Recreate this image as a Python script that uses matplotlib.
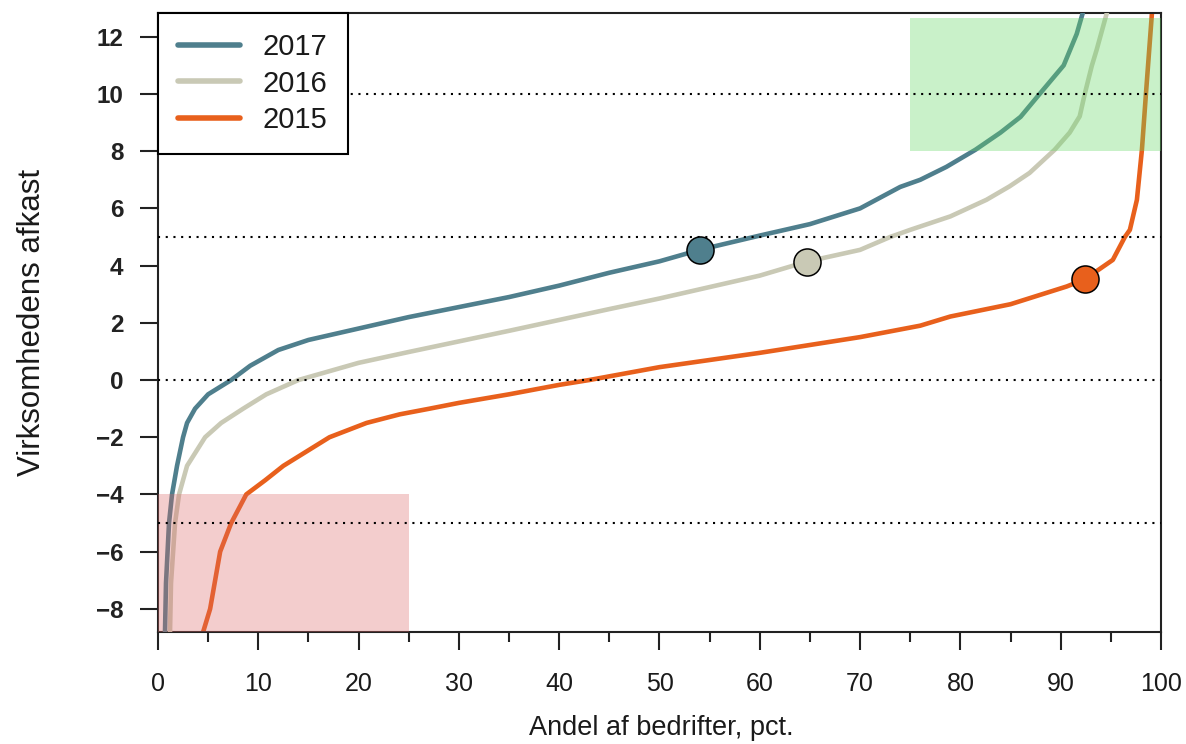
import matplotlib
matplotlib.use("Agg")
import matplotlib.pyplot as plt
from matplotlib.patches import Rectangle
from matplotlib.ticker import MultipleLocator

# Sorted farm returns (percent) against share of farms (percent), one curve per year
share_2017 = [0.7, 0.8, 1.1, 1.4, 1.9, 2.5, 2.9, 3.7, 5.0, 7.3, 9.2, 12.0, 15.0, 20.0, 25.0,
              30.0, 35.0, 40.0, 45.0, 50.0, 54.0, 60.0, 65.0, 70.0, 74.0, 76.0, 78.6,
              81.5, 84.0, 86.0, 87.9, 90.3, 91.6, 92.2]
return_2017 = [-8.81, -7.1, -5.0, -4.0, -3.0, -2.0, -1.5, -1.0, -0.5, 0.0, 0.5, 1.05, 1.4, 1.8,
               2.2, 2.55, 2.9, 3.3, 3.75, 4.15, 4.55, 5.05, 5.45, 6.0, 6.75, 7.0, 7.45,
               8.05, 8.65, 9.2, 10.0, 11.0, 12.1, 12.83]

share_2016 = [1.2, 1.3, 1.7, 2.1, 2.9, 4.7, 6.3, 8.5, 10.8, 14.0, 20.0, 25.0, 30.0, 35.0,
              40.0, 45.0, 50.0, 55.0, 60.0, 64.7, 70.0, 73.0, 75.0, 79.0, 82.6, 84.9,
              86.9, 89.4, 90.9, 91.9, 92.4, 93.1, 93.6, 94.6]
return_2016 = [-8.81, -7.1, -5.0, -4.0, -3.0, -2.0, -1.5, -1.0, -0.5, 0.0, 0.6, 0.98, 1.35,
               1.72, 2.1, 2.48, 2.85, 3.25, 3.65, 4.14, 4.55, 5.0, 5.25, 5.72, 6.3, 6.77,
               7.24, 8.05, 8.65, 9.22, 10.0, 10.98, 11.56, 12.83]

share_2015 = [4.5, 5.2, 6.2, 7.3, 8.8, 10.7, 12.5, 14.8, 17.1, 20.8, 24.1, 27.1, 30.0, 35.0,
              40.0, 43.0, 50.0, 60.0, 70.0, 76.0, 79.0, 85.0, 90.6, 92.4, 95.2, 96.4,
              96.9, 97.6, 98.1, 98.5, 99.1]
return_2015 = [-8.81, -8.0, -6.0, -5.0, -4.0, -3.5, -3.0, -2.5, -2.0, -1.5, -1.2, -1.0, -0.8,
               -0.5, -0.17, 0.0, 0.45, 0.95, 1.5, 1.9, 2.22, 2.65, 3.27, 3.52, 4.2, 5.0,
               5.25, 6.3, 8.05, 10.0, 12.83]

# Highlighted farm (share, return) for each year
marker_share = [54.0, 64.7, 92.4]
marker_return = [4.55, 4.14, 3.52]

years = ["2017", "2016", "2015"]
line_colors = ["#4F7F8D", "#C9C9B5", "#E8601C"]

# Shaded zones: (x0, x1, y0, y1)
top_zone = (75, 100, 8, 12.65)
bottom_zone = (0, 25, -8.81, -4)
zone_colors = [(0.40, 0.85, 0.40, 0.35), (0.86, 0.40, 0.40, 0.32)]

reference_levels = [-5, 0, 5, 10]

x_ticks = list(range(0, 101, 10))
y_ticks = list(range(-8, 13, 2))

plt.rcParams["font.family"] = ["Liberation Sans", "DejaVu Sans"]

fig = plt.figure(figsize=(11.86, 7.44), dpi=100)
ax = fig.add_axes([0.1332, 0.1505, 0.8457, 0.8320])

series = [(share_2017, return_2017), (share_2016, return_2016), (share_2015, return_2015)]
for (xs, ys), year, col, zo in zip(series, years, line_colors, [4, 3, 2]):
    ax.plot(xs, ys, color=col, lw=3.3, label=year, zorder=zo, solid_joinstyle="round")

for zone, zc in zip([top_zone, bottom_zone], zone_colors):
    x0, x1, y0, y1 = zone
    ax.add_patch(Rectangle((x0, y0), x1 - x0, y1 - y0, facecolor=zc,
                           edgecolor="none", zorder=5))

for lvl in reference_levels:
    ax.axhline(lvl, color="black", lw=1.5, linestyle=(0, (1, 2.7)), zorder=6)

for xs, ys, col in zip(marker_share, marker_return, line_colors):
    ax.plot([xs], [ys], "o", ms=19.5, mfc=col, mec="black", mew=1.1, zorder=8)

ax.set_xlim(0, 100)
ax.set_ylim(-8.81, 12.83)

ax.set_xticks(x_ticks)
ax.xaxis.set_minor_locator(MultipleLocator(5))
ax.set_yticks(y_ticks)

for sp in ax.spines.values():
    sp.set_linewidth(1.5)
    sp.set_color("#222222")

ax.tick_params(axis="x", which="major", direction="out", length=13, width=1.5,
               color="#222222", pad=16)
ax.tick_params(axis="x", which="minor", direction="out", length=7, width=1.5,
               color="#222222")
ax.tick_params(axis="y", which="major", direction="out", length=13, width=1.5,
               color="#222222", pad=12)

for lab in ax.get_xticklabels():
    lab.set_fontsize(18)
    lab.set_color("#1a1a1a")
for lab in ax.get_yticklabels():
    lab.set_fontsize(17.5)
    lab.set_fontweight("bold")
    lab.set_color("#222222")

ax.set_xlabel("Andel af bedrifter, pct.", fontsize=19.5, color="#1a1a1a")
ax.xaxis.label.set_va("center")
ax.xaxis.set_label_coords(0.5015, -0.155)

ax.set_ylabel("Virksomhedens afkast", fontsize=22.5, color="#1a1a1a")
ax.yaxis.label.set_va("center")
ax.yaxis.set_label_coords(-0.1256, 0.5)

leg = ax.legend(loc="upper left", bbox_to_anchor=(0, 1), borderaxespad=0,
                fontsize=21, frameon=True, fancybox=False, framealpha=1,
                edgecolor="black", handlelength=2.1, handletextpad=0.8,
                borderpad=0.7, labelspacing=0.28)
leg.get_frame().set_linewidth(1.5)
leg.set_zorder(10)
for txt in leg.get_texts():
    txt.set_color("#1a1a1a")
for ln in leg.get_lines():
    ln.set_linewidth(4.0)
    ln.set_solid_capstyle("round")

fig.savefig("out.png", dpi=100)
